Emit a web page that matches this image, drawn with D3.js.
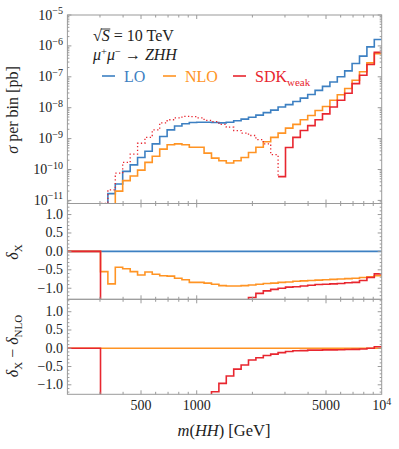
<!DOCTYPE html>
<html>
<head>
<meta charset="utf-8">
<script src="https://cdn.jsdelivr.net/npm/d3@7"></script>
<style>
  body { margin: 0; background: #fff; }
  svg text { font-family: "Liberation Serif", "DejaVu Serif", serif; fill: #222; }
</style>
</head>
<body>
<svg id="chart"></svg>
<script>
// bin edges in m(HH) [GeV] (first bin just pads the axis down to 200)
var binEdges = [200, 251, 275, 302, 331, 363, 398, 437, 479, 525, 575, 631, 692, 759, 832, 912,
  1000, 1096, 1202, 1318, 1445, 1585, 1738, 1905, 2089, 2291, 2512, 2754, 3020, 3311, 3631,
  3981, 4365, 4786, 5248, 5754, 6310, 6918, 7586, 8318, 9120, 10000];

// sigma per bin [pb]; null = below the axis
var sigmaLO = [null, null, null, null,
  1.66e-11, 3.39e-11, 8.7e-11, 1.41e-10, 2.45e-10, 3.89e-10, 6.76e-10, 1.17e-9, 1.91e-9, 2.57e-9,
  3.02e-9, 3.31e-9, 3.39e-9, 3.39e-9, 3.31e-9, 3.24e-9, 3.39e-9, 3.80e-9, 4.27e-9, 4.90e-9,
  5.75e-9, 6.92e-9, 8.32e-9, 1.05e-8, 1.26e-8, 1.58e-8, 2.04e-8, 2.69e-8, 3.63e-8, 4.90e-8,
  6.76e-8, 1.0e-7, 1.55e-7, 2.69e-7, 4.68e-7, 9.33e-7, 1.62e-6];
var sigmaNLO = [null, null, null, null, null,
  2.0e-11, 4.37e-11, 6.17e-11, 9.55e-11, 1.70e-10, 2.69e-10, 4.57e-10, 6.31e-10, 6.76e-10,
  6.31e-10, 5.25e-10, 5.25e-10, 3.39e-10, 2.34e-10, 1.91e-10, 1.62e-10, 1.91e-10, 2.45e-10,
  3.55e-10, 5.25e-10, 7.94e-10, 1.10e-9, 1.51e-9, 2.19e-9, 2.88e-9, 4.07e-9, 5.62e-9, 8.13e-9,
  1.10e-8, 1.74e-8, 2.63e-8, 4.17e-8, 7.76e-8, 1.45e-7, 2.82e-7, 5.62e-7];
// negative values are negative cross sections, drawn dotted as |sigma|
var sigmaSDK = [null, null, null,
  -8e-12, -2.19e-11, -7.59e-11, -1.70e-10, -3.16e-10, -7.08e-10, -1.10e-9, -1.91e-9, -3.24e-9,
  -4.07e-9, -4.68e-9, -5.25e-9, -5.13e-9, -4.68e-9, -3.89e-9, -3.55e-9, -2.88e-9, -2.34e-9,
  -1.82e-9, -1.51e-9, -1.26e-9, -9.33e-10, -6.76e-10, -3.02e-10,
  5.89e-11, 5.13e-10, 1.10e-9, 1.82e-9, 2.63e-9, 4.07e-9, 6.31e-9, 1.05e-8, 1.74e-8, 2.95e-8,
  6.03e-8, 1.12e-7, 2.51e-7, 6.17e-7];

// relative corrections delta_X; null = below the panel
var deltaLO = [0, 0, 0, 0, 0, 0, 0, 0, 0, 0, 0, 0, 0, 0, 0, 0, 0, 0, 0, 0, 0,
  0, 0, 0, 0, 0, 0, 0, 0, 0, 0, 0, 0, 0, 0, 0, 0, 0, 0, 0, 0];
var deltaNLO = [0, 0, 0,
  -0.55, -0.88, -0.43, -0.47, -0.55, -0.64, -0.56, -0.62, -0.66, -0.67, -0.73, -0.77, -0.84,
  -0.84, -0.86, -0.89, -0.93, -0.94, -0.94, -0.93, -0.91, -0.89, -0.87, -0.86, -0.84, -0.83,
  -0.81, -0.80, -0.79, -0.78, -0.77, -0.76, -0.75, -0.74, -0.73, -0.71, -0.69, -0.66];
var deltaSDK = [0, 0, 0,
  null, null, null, null, null, null, null, null, null, null,
  null, null, null, null, null, null, null, null, null, null,
  -1.25, -1.14, -1.07, -1.03, -1.00, -0.97, -0.96, -0.94, -0.92, -0.90, -0.89, -0.88, -0.87,
  -0.85, -0.84, -0.79, -0.71, -0.61];

// delta_X - delta_NLO
var diffNLO = [0, 0, 0, 0, 0, 0, 0, 0, 0, 0, 0, 0, 0, 0, 0, 0, 0, 0, 0, 0, 0,
  0, 0, 0, 0, 0, 0, 0, 0, 0, 0, 0, 0, 0, 0, 0, 0, 0, 0, 0, 0];
var diffSDK = [0, 0, 0,
  null, null, null, null, null, null, null, null, null, null, null, null, null, null, null,
  -1.19, -0.96, -0.76, -0.57, -0.46, -0.32, -0.26, -0.20, -0.16, -0.12, -0.09, -0.07, -0.065,
  -0.05, -0.05, -0.045, -0.045, -0.04, -0.035, -0.03, -0.02, 0.0, 0.04];

var xMajor = [500, 1000, 5000, 10000];
var xLabels = ['500', '1000', '5000', '10|4'];
var deltaMajor = [-1, -0.5, 0, 0.5, 1];
var deltaLabels = ['\u22121.0', '\u22120.5', '0.0', '0.5', '1.0'];

var colors = { LO: '#3d80c2', NLO: '#ff9424', SDK: '#e8262f' };

var width = 399, height = 449;
var plotL = 67.4, plotR = 381.7;

var svg = d3.select('#chart')
  .attr('width', width)
  .attr('height', height);

var x = d3.scaleLog().domain([200, 10000]).range([plotL, plotR]);

var panels = [
  { id: 'top', y0: 15, y1: 203.5, y: d3.scaleLog().domain([Math.pow(10, -11.1), 1e-5]).range([203.5, 15]) },
  { id: 'mid', y0: 203.5, y1: 299.3, y: d3.scaleLinear().domain([-1.3, 1.3]).range([299.3, 203.5]) },
  { id: 'bot', y0: 299.3, y1: 394.3, y: d3.scaleLinear().domain([-1.26, 1.34]).range([394.3, 299.3]) }
];

var defs = svg.append('defs');
panels.forEach(function (p) {
  defs.append('clipPath').attr('id', 'clip-' + p.id)
    .append('rect')
      .attr('x', plotL).attr('y', p.y0)
      .attr('width', plotR - plotL).attr('height', p.y1 - p.y0);
});

// build step outlines; link = full series used to join runs / drop to the floor
function stepRuns(vals, link, ys, floorY) {
  var runs = [], pts = null;
  function close(i) {
    var next = i < link.length ? link[i] : null;
    if (i < link.length) pts.push([x(binEdges[i]), next == null ? floorY : ys(next)]);
    runs.push(pts);
    pts = null;
  }
  for (var i = 0; i < vals.length; i++) {
    var v = vals[i];
    if (v == null) { if (pts) close(i); continue; }
    if (!pts) {
      pts = [];
      if (i > 0 && link[i - 1] == null) pts.push([x(binEdges[i]), floorY]);
    }
    pts.push([x(binEdges[i]), ys(v)], [x(binEdges[i + 1]), ys(v)]);
  }
  if (pts) runs.push(pts);
  return runs;
}

var line = d3.line();

function drawSeries(p, vals, link, color, dotted) {
  var g = svg.append('g').attr('clip-path', 'url(#clip-' + p.id + ')');
  stepRuns(vals, link, p.y, p.y1 + 3).forEach(function (pts) {
    g.append('path')
      .attr('d', line(pts))
      .attr('fill', 'none')
      .attr('stroke', color)
      .attr('stroke-width', dotted ? 1.3 : 1.6)
      .attr('stroke-dasharray', dotted ? '1.3,2.4' : null)
      .attr('stroke-linejoin', 'miter');
  });
}

var pTop = panels[0], pMid = panels[1], pBot = panels[2];

var sdkAbs = sigmaSDK.map(function (v) { return v == null ? null : Math.abs(v); });
var sdkNeg = sigmaSDK.map(function (v) { return v != null && v < 0 ? -v : null; });
var sdkPos = sigmaSDK.map(function (v) { return v != null && v > 0 ? v : null; });

drawSeries(pTop, sigmaLO, sigmaLO, colors.LO, false);
drawSeries(pTop, sigmaNLO, sigmaNLO, colors.NLO, false);
drawSeries(pTop, sdkNeg, sdkAbs, colors.SDK, true);
drawSeries(pTop, sdkPos, sdkAbs, colors.SDK, false);

drawSeries(pMid, deltaLO, deltaLO, colors.LO, false);
drawSeries(pMid, deltaNLO, deltaNLO, colors.NLO, false);
drawSeries(pMid, deltaSDK, deltaSDK, colors.SDK, false);

drawSeries(pBot, diffNLO, diffNLO, colors.NLO, false);
drawSeries(pBot, diffSDK, diffSDK, colors.SDK, false);

// frames and ticks
var frameColor = '#9a9a9a';
var axes = svg.append('g').attr('stroke', frameColor).attr('fill', 'none');

panels.forEach(function (p) {
  axes.append('rect')
    .attr('x', plotL).attr('y', p.y0)
    .attr('width', plotR - plotL).attr('height', p.y1 - p.y0)
    .attr('stroke-width', 1);

  x.ticks().forEach(function (t) {
    if (t <= 200 || t >= 10000) return;
    var len = xMajor.indexOf(t) >= 0 ? 4 : 2.5;
    var xx = x(t);
    axes.append('line').attr('x1', xx).attr('x2', xx).attr('y1', p.y1).attr('y2', p.y1 - len);
    axes.append('line').attr('x1', xx).attr('x2', xx).attr('y1', p.y0).attr('y2', p.y0 + len);
  });
});

// top panel y ticks (log)
pTop.y.ticks().forEach(function (t) {
  var lg = Math.log10(t);
  var major = Math.abs(lg - Math.round(lg)) < 1e-6;
  var len = major ? 4 : 2;
  var yy = pTop.y(t);
  if (yy < pTop.y0 - 0.5 || yy > pTop.y1 + 0.5) return;
  axes.append('line').attr('x1', plotL).attr('x2', plotL + len).attr('y1', yy).attr('y2', yy);
  axes.append('line').attr('x1', plotR).attr('x2', plotR - len).attr('y1', yy).attr('y2', yy);
});

// delta panels y ticks
[pMid, pBot].forEach(function (p) {
  d3.range(-12, 14).forEach(function (k) {
    var t = k / 10;
    var major = k % 5 === 0;
    var len = major ? 4 : 2;
    var yy = p.y(t);
    if (yy < p.y0 || yy > p.y1) return;
    axes.append('line').attr('x1', plotL).attr('x2', plotL + len).attr('y1', yy).attr('y2', yy);
    axes.append('line').attr('x1', plotR).attr('x2', plotR - len).attr('y1', yy).attr('y2', yy);
  });
});

// tick labels
var labels = svg.append('g');

d3.range(-11, -4).forEach(function (e) {
  var t = labels.append('text')
    .attr('x', 63).attr('y', pTop.y(Math.pow(10, e)) + 4.5)
    .attr('text-anchor', 'end')
    .attr('font-size', 14);
  t.append('tspan').text('10');
  t.append('tspan').attr('dy', -5.5).attr('font-size', 10).text('\u2212' + (-e));
});

[pMid, pBot].forEach(function (p) {
  deltaMajor.forEach(function (v, i) {
    labels.append('text')
      .attr('x', 63).attr('y', p.y(v) + 4.5)
      .attr('text-anchor', 'end')
      .attr('font-size', 14)
      .text(deltaLabels[i]);
  });
});

xMajor.forEach(function (v, i) {
  var parts = xLabels[i].split('|');
  var t = labels.append('text')
    .attr('x', x(v)).attr('y', 410)
    .attr('text-anchor', 'middle')
    .attr('font-size', 14);
  t.append('tspan').text(parts[0]);
  if (parts[1]) t.append('tspan').attr('dy', -5.5).attr('font-size', 10).text(parts[1]);
});

// axis titles
var xt = labels.append('text')
  .attr('x', 224).attr('y', 436)
  .attr('text-anchor', 'middle')
  .attr('font-size', 16.5);
xt.append('tspan').attr('font-style', 'italic').text('m');
xt.append('tspan').text('(');
xt.append('tspan').attr('font-style', 'italic').text('HH');
xt.append('tspan').text(')  [GeV]');

var yt = labels.append('text')
  .attr('transform', 'translate(18,110) rotate(-90)')
  .attr('text-anchor', 'middle')
  .attr('font-size', 16);
yt.append('tspan').attr('font-style', 'italic').text('\u03c3');
yt.append('tspan').text(' per bin [pb]');

var dt = labels.append('text')
  .attr('transform', 'translate(18,252) rotate(-90)')
  .attr('text-anchor', 'middle')
  .attr('font-size', 16);
dt.append('tspan').attr('font-style', 'italic').text('\u03b4');
dt.append('tspan').attr('dy', 3.5).attr('font-size', 11).text('X');

var dd = labels.append('text')
  .attr('transform', 'translate(18,346) rotate(-90)')
  .attr('text-anchor', 'middle')
  .attr('font-size', 16);
dd.append('tspan').attr('font-style', 'italic').text('\u03b4');
dd.append('tspan').attr('dy', 3.5).attr('font-size', 11).text('X');
dd.append('tspan').attr('dy', -3.5).text(' \u2212 ');
dd.append('tspan').attr('font-style', 'italic').text('\u03b4');
dd.append('tspan').attr('dy', 3.5).attr('font-size', 11).text('NLO');

// annotation
var a1 = labels.append('text')
  .attr('x', 93).attr('y', 41)
  .attr('font-size', 16);
a1.append('tspan').text('\u221a');
a1.append('tspan').attr('font-style', 'italic').text('S');
a1.append('tspan').text(' = 10 TeV');
var sBox = a1.node().getExtentOfChar(1);
labels.append('line')
  .attr('x1', sBox.x - 1).attr('x2', sBox.x + sBox.width + 0.5)
  .attr('y1', sBox.y + 2).attr('y2', sBox.y + 2)
  .attr('stroke', '#222').attr('stroke-width', 0.9);

var a2 = labels.append('text')
  .attr('x', 93).attr('y', 60)
  .attr('font-size', 16);
a2.append('tspan').attr('font-style', 'italic').text('\u03bc');
a2.append('tspan').attr('dy', -5).attr('font-size', 10.5).text('+');
a2.append('tspan').attr('dy', 5).attr('font-style', 'italic').text('\u03bc');
a2.append('tspan').attr('dy', -5).attr('font-size', 10.5).text('\u2212');
a2.append('tspan').attr('dy', 5).text(' \u2192 ');
a2.append('tspan').attr('font-style', 'italic').text('ZHH');

// legend
var legend = [
  { name: 'LO', sub: null, color: colors.LO, x: 102 },
  { name: 'NLO', sub: null, color: colors.NLO, x: 163 },
  { name: 'SDK', sub: 'weak', color: colors.SDK, x: 233 }
];
var lg = svg.append('g');
legend.forEach(function (d) {
  lg.append('line')
    .attr('x1', d.x).attr('x2', d.x + 13)
    .attr('y1', 76).attr('y2', 76)
    .attr('stroke', d.color).attr('stroke-width', 1.6);
  var t = lg.append('text')
    .attr('x', d.x + 22).attr('y', 81.5)
    .attr('font-size', 16)
    .style('fill', d.color);
  t.append('tspan').text(d.name);
  if (d.sub) t.append('tspan').attr('dy', 4).attr('font-size', 11).text(d.sub);
});
</script>
</body>
</html>
